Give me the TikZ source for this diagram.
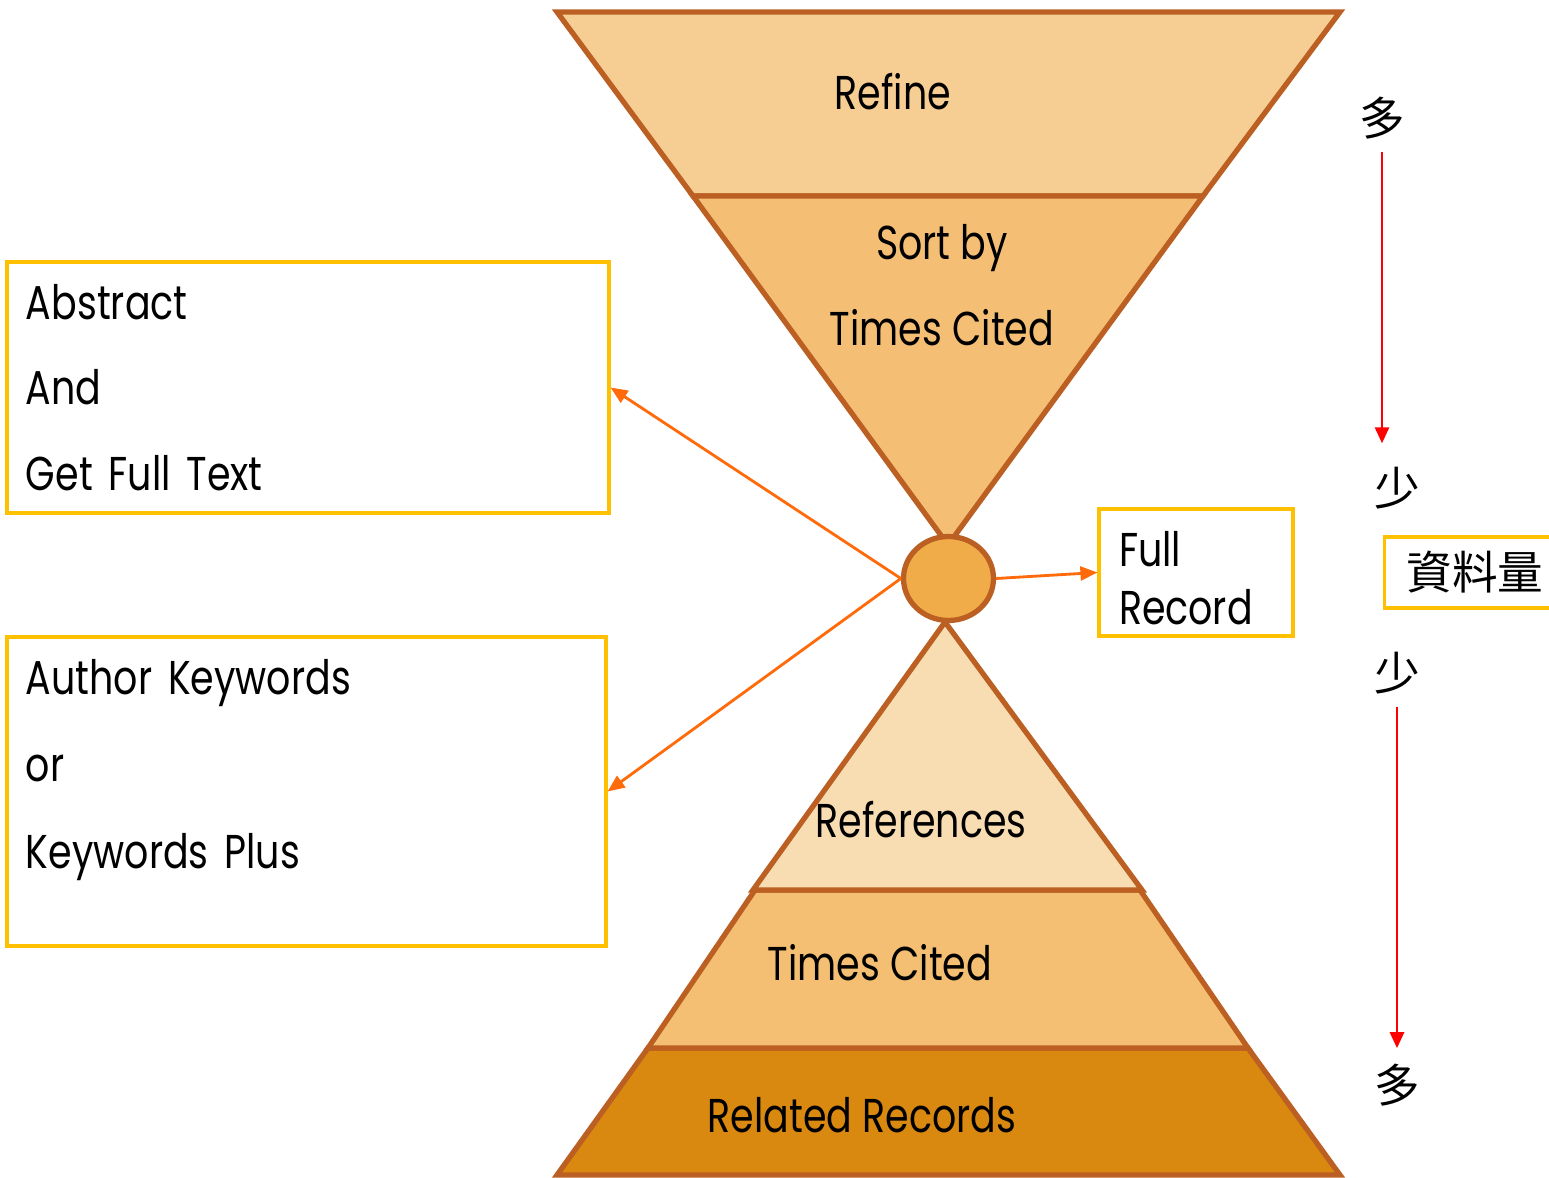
\documentclass[tikz,border=0pt]{standalone}
\usepackage{fontspec}
\setmainfont{Poppins}[FakeStretch=0.8]
\newfontfamily\cjk{Noto Sans CJK TC}
\usepackage{xcolor}
\usepackage{tikz}
\usetikzlibrary{shapes.geometric, arrows.meta, positioning, calc}

\definecolor{edgebrown}{HTML}{BC5F22}
\definecolor{refinefill}{HTML}{F6CE93}
\definecolor{sortfill}{HTML}{F4BF75}
\definecolor{reffill}{HTML}{F8DCB2}
\definecolor{citedfill}{HTML}{F4BF72}
\definecolor{relatedfill}{HTML}{D98810}
\definecolor{hubfill}{HTML}{F0AC48}
\definecolor{boxyellow}{HTML}{FFC000}
\definecolor{linkorange}{HTML}{FF6A0A}

\begin{document}
\begin{tikzpicture}[
    x=1cm, y=-1cm,
    funnel/.style={draw=edgebrown, line width=1.5pt},
    hub/.style={draw=edgebrown, ellipse, fill=hubfill, line width=1.5pt, minimum width=0.9cm, minimum height=0.84cm, inner sep=0pt},
    bandlabel/.style={font=\fontsize{13.5}{24.4}\selectfont, align=center, inner sep=0pt},
    infobox/.style={draw=boxyellow, line width=0.9pt, align=left, inner xsep=0.19cm, font=\fontsize{13.5}{24.4}\selectfont},
    amount/.style={font=\cjk\fontsize{13}{13}\selectfont, inner sep=0.05cm},
    link/.style={draw=linkorange, line width=0.8pt, -{Triangle[length=0.17cm,width=0.14cm]}},
    trend/.style={draw=red, line width=0.8pt, -{Triangle[length=0.16cm,width=0.14cm]}}
]
    \useasboundingbox (0,0) rectangle (15.49,11.78);

    % upper funnel
    \filldraw[funnel, fill=refinefill] (5.57,0.12) -- (13.40,0.12) -- (12.03,1.96) -- (6.93,1.96) -- cycle;
    \filldraw[funnel, fill=sortfill] (6.93,1.96) -- (12.03,1.96) -- (9.48,5.45) -- cycle;

    % lower pyramid
    \filldraw[funnel, fill=relatedfill] (6.48,10.48) -- (12.48,10.48) -- (13.40,11.75) -- (5.57,11.75) -- cycle;
    \filldraw[funnel, fill=citedfill] (7.55,8.90) -- (11.40,8.90) -- (12.48,10.48) -- (6.48,10.48) -- cycle;
    \filldraw[funnel, fill=reffill] (9.45,6.22) -- (11.42,8.90) -- (7.53,8.90) -- cycle;

    \node[bandlabel] (refine) at (8.93,0.92) {Refine};
    \node[bandlabel] (sortby) at (9.42,2.85) {Sort by\\Times Cited};
    \node[bandlabel] (references) at (9.21,8.20) {References};
    \node[bandlabel] (timescited) at (8.80,9.63) {Times Cited};
    \node[bandlabel] (related) at (8.62,11.15) {Related Records};

    \node[hub] (hub) at (9.485,5.785) {};

    % side boxes
    \node[infobox, minimum height=2.51cm, text width=5.64cm] (abstract) at (3.08,3.875) {Abstract\\And\\Get Full Text};
    \node[infobox, minimum height=3.09cm, text width=5.61cm, text depth=2.30cm, font=\fontsize{13.5}{24.8}\selectfont] (keywords) at (3.065,7.915) {Author Keywords\\or\\Keywords Plus};
    \node[infobox, minimum height=1.27cm, text width=1.54cm, inner xsep=0.2cm, text depth=0.48cm, font=\fontsize{13.5}{16.5}\selectfont] (fullrecord) at (11.96,5.725) {Full\\Record};
    \node[infobox, anchor=west, minimum height=0.71cm, text width=1.56cm, inner xsep=0.22cm, font=\cjk\fontsize{13}{13}\selectfont] (volume) at (13.83,5.725) {資料量};

    \draw[link] (hub.west) -- (abstract.east);
    \draw[link] (hub.west) -- (keywords.east);
    \draw[link] (hub.east) -- (fullrecord.west);

    % more / less
    \node[amount] (more1) at (13.82,1.18) {多};
    \node[amount] (less1) at (13.97,4.88) {少};
    \node[amount] (less2) at (13.97,6.73) {少};
    \node[amount] (more2) at (13.97,10.85) {多};

    \draw[trend, shorten <=0.07cm, shorten >=0.18cm] (more1.south) -- (less1.north -| more1.south);
    \draw[trend, shorten <=0.07cm, shorten >=0.1cm] (less2.south) -- (more2.north);
\end{tikzpicture}
\end{document}
